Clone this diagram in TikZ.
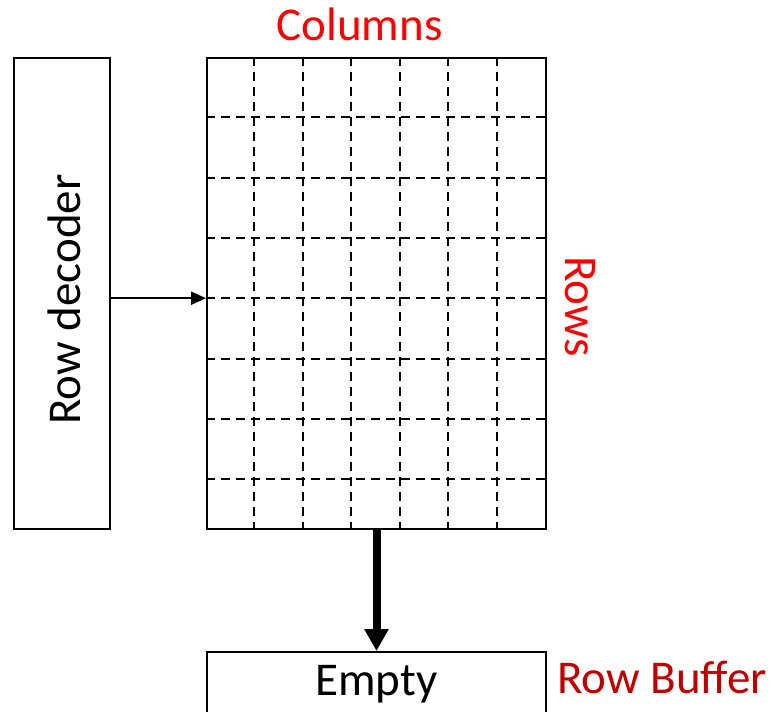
\documentclass[tikz,border=0pt]{standalone}
\usepackage{fontspec}
\setmainfont{Carlito}
\usetikzlibrary{arrows.meta,calc}
\definecolor{brightred}{RGB}{255,0,0}
\definecolor{darkred}{RGB}{192,0,0}
\begin{document}
\begin{tikzpicture}[x=1pt,y=1pt,
  lbl/.style={inner sep=0pt,font=\fontsize{47}{50}\selectfont},
  boxed/.style={draw,line width=2pt,inner sep=0pt},
  gridline/.style={line width=2pt,dash pattern=on 9pt off 6pt},
]
\useasboundingbox (0,0) rectangle (775,-711);
\clip (0,0) rectangle (775,-711);
% memory array
\node[boxed,minimum width=339pt,minimum height=471pt] (array) at (376.5,-293.5) {};
\foreach \i in {1,...,6} {
  \draw[gridline] ($(array.north west)+(48.43*\i,0)$) -- ($(array.south west)+(48.43*\i,0)$);
}
\foreach \i in {1,...,7} {
  \draw[gridline] ($(array.north west)+(0,-60.3*\i)$) -- ($(array.north east)+(0,-60.3*\i)$);
}
\node[boxed,minimum width=339pt,minimum height=471pt] at (array) {};
% row decoder
\node[boxed,minimum width=96pt,minimum height=471pt] (dec) at (62,-293.5) {};
\node[lbl,rotate=90,anchor=base] (dectext) at (80,-299.5) {Row decoder};
\coordinate (arrin) at ($(array.north west)+(0,-241.2)$);
\draw[line width=2pt,-{Triangle[length=15pt,width=13pt]}] (dec.east |- arrin) -- (arrin);
% row buffer
\node[boxed,minimum width=339pt,minimum height=100pt,anchor=north] (buf) at (376.5,-651) {};
\node[lbl,anchor=base] (emptytext) at (376.5,-695) {Empty};
\draw[line width=8pt,-{Triangle[length=22pt,width=23pt]}] (376.5,-529) -- (buf.north);
% labels
\node[lbl,anchor=base,text=brightred] (cols) at (359.5,-41) {Columns};
\node[lbl,anchor=base,rotate=-90,text=brightred] (rows) at (565,-306.5) {Rows};
\node[lbl,anchor=base west,text=darkred] (rb) at (557,-693.5) {Row Buffer};
\end{tikzpicture}
\end{document}
